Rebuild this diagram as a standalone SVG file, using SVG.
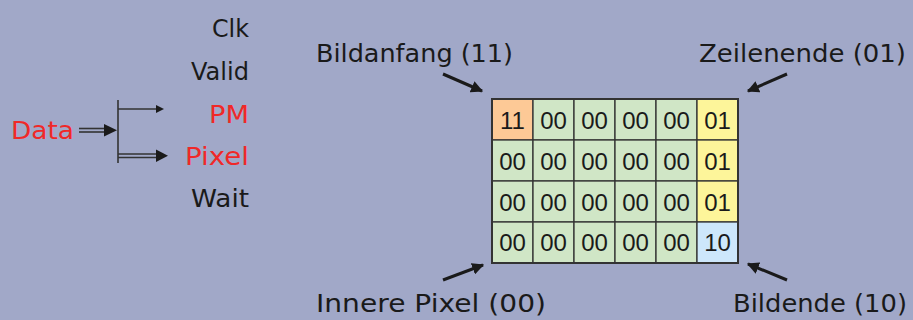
<svg xmlns="http://www.w3.org/2000/svg" width="913" height="320" viewBox="0 0 913 320">
<defs>
<style>
.lbl{font-family:"DejaVu Sans","Noto Sans",sans-serif;font-size:24px;fill:#1a1a1a}
.red{fill:#f02828}
.num{font-family:"Liberation Sans",Arial,sans-serif;font-size:24px;fill:#1a1a1a;text-anchor:middle}
.cell{stroke:#333;stroke-width:1.3}
.g{fill:#d0e6c6}
.o{fill:#fdc996}
.y{fill:#fdf59a}
.b{fill:#cde7fb}
.ln{stroke:#333;stroke-width:1.6;fill:none}
.ar{stroke:#1a1a1a;stroke-width:3;fill:none}
</style>
<marker id="ah" viewBox="0 0 10 10" refX="9" refY="5" markerWidth="4" markerHeight="4" orient="auto">
<path d="M0,0 L10,5 L0,10 z" fill="#1a1a1a"/>
</marker>
</defs>
<rect width="913" height="320" fill="#a1a8c8"/>

<g id="signals">
<text class="lbl" x="212" y="37" textLength="37" lengthAdjust="spacingAndGlyphs">Clk</text>
<text class="lbl" x="191" y="80" textLength="58" lengthAdjust="spacingAndGlyphs">Valid</text>
<text class="lbl red" x="209" y="123" textLength="40" lengthAdjust="spacingAndGlyphs">PM</text>
<text class="lbl red" x="185" y="165" textLength="64" lengthAdjust="spacingAndGlyphs">Pixel</text>
<text class="lbl" x="191" y="207" textLength="58" lengthAdjust="spacingAndGlyphs">Wait</text>
<text class="lbl red" x="11" y="139" textLength="63" lengthAdjust="spacingAndGlyphs">Data</text>
</g>

<g id="connectors">
<line class="ln" x1="118" y1="100" x2="118" y2="163"/>
<line class="ln" x1="79" y1="128.5" x2="106" y2="128.5"/>
<line class="ln" x1="79" y1="132" x2="106" y2="132"/>
<path d="M104,124 L117,130.3 L104,136.5 z" fill="#1a1a1a"/>
<line class="ln" x1="118" y1="109" x2="158" y2="109"/>
<path d="M156,105 L164,109 L156,113 z" fill="#1a1a1a"/>
<line class="ln" x1="118" y1="154" x2="158" y2="154"/>
<line class="ln" x1="118" y1="157.5" x2="158" y2="157.5"/>
<path d="M156,149.5 L168,155.7 L156,162 z" fill="#1a1a1a"/>
<line class="ar" x1="443" y1="74" x2="482" y2="91" marker-end="url(#ah)"/>
<line class="ar" x1="787" y1="74" x2="748" y2="91" marker-end="url(#ah)"/>
<line class="ar" x1="443" y1="280" x2="483" y2="265" marker-end="url(#ah)"/>
<line class="ar" x1="787" y1="280" x2="748" y2="264" marker-end="url(#ah)"/>
</g>

<g id="grid">
<rect class="cell o" x="492" y="99" width="41" height="41"/>
<rect class="cell g" x="533" y="99" width="41" height="41"/>
<rect class="cell g" x="574" y="99" width="41" height="41"/>
<rect class="cell g" x="615" y="99" width="41" height="41"/>
<rect class="cell g" x="656" y="99" width="41" height="41"/>
<rect class="cell y" x="697" y="99" width="41" height="41"/>
<rect class="cell g" x="492" y="140" width="41" height="41"/>
<rect class="cell g" x="533" y="140" width="41" height="41"/>
<rect class="cell g" x="574" y="140" width="41" height="41"/>
<rect class="cell g" x="615" y="140" width="41" height="41"/>
<rect class="cell g" x="656" y="140" width="41" height="41"/>
<rect class="cell y" x="697" y="140" width="41" height="41"/>
<rect class="cell g" x="492" y="181" width="41" height="41"/>
<rect class="cell g" x="533" y="181" width="41" height="41"/>
<rect class="cell g" x="574" y="181" width="41" height="41"/>
<rect class="cell g" x="615" y="181" width="41" height="41"/>
<rect class="cell g" x="656" y="181" width="41" height="41"/>
<rect class="cell y" x="697" y="181" width="41" height="41"/>
<rect class="cell g" x="492" y="222" width="41" height="41"/>
<rect class="cell g" x="533" y="222" width="41" height="41"/>
<rect class="cell g" x="574" y="222" width="41" height="41"/>
<rect class="cell g" x="615" y="222" width="41" height="41"/>
<rect class="cell g" x="656" y="222" width="41" height="41"/>
<rect class="cell b" x="697" y="222" width="41" height="41"/>
<rect x="492" y="99" width="246" height="164" fill="none" stroke="#333" stroke-width="2"/>
<text class="num" x="512.5" y="129">11</text>
<text class="num" x="553.5" y="129">00</text>
<text class="num" x="594.5" y="129">00</text>
<text class="num" x="635.5" y="129">00</text>
<text class="num" x="676.5" y="129">00</text>
<text class="num" x="717.5" y="129">01</text>
<text class="num" x="512.5" y="170">00</text>
<text class="num" x="553.5" y="170">00</text>
<text class="num" x="594.5" y="170">00</text>
<text class="num" x="635.5" y="170">00</text>
<text class="num" x="676.5" y="170">00</text>
<text class="num" x="717.5" y="170">01</text>
<text class="num" x="512.5" y="211">00</text>
<text class="num" x="553.5" y="211">00</text>
<text class="num" x="594.5" y="211">00</text>
<text class="num" x="635.5" y="211">00</text>
<text class="num" x="676.5" y="211">00</text>
<text class="num" x="717.5" y="211">01</text>
<text class="num" x="512.5" y="251">00</text>
<text class="num" x="553.5" y="251">00</text>
<text class="num" x="594.5" y="251">00</text>
<text class="num" x="635.5" y="251">00</text>
<text class="num" x="676.5" y="251">00</text>
<text class="num" x="717.5" y="251">10</text>
</g>

<g id="labels">
<text class="lbl" x="316" y="62" textLength="197" lengthAdjust="spacingAndGlyphs">Bildanfang (11)</text>
<text class="lbl" x="699" y="62" textLength="207" lengthAdjust="spacingAndGlyphs">Zeilenende (01)</text>
<text class="lbl" x="316" y="312" textLength="230" lengthAdjust="spacingAndGlyphs">Innere Pixel (00)</text>
<text class="lbl" x="733" y="312" textLength="174" lengthAdjust="spacingAndGlyphs">Bildende (10)</text>
</g>
</svg>
